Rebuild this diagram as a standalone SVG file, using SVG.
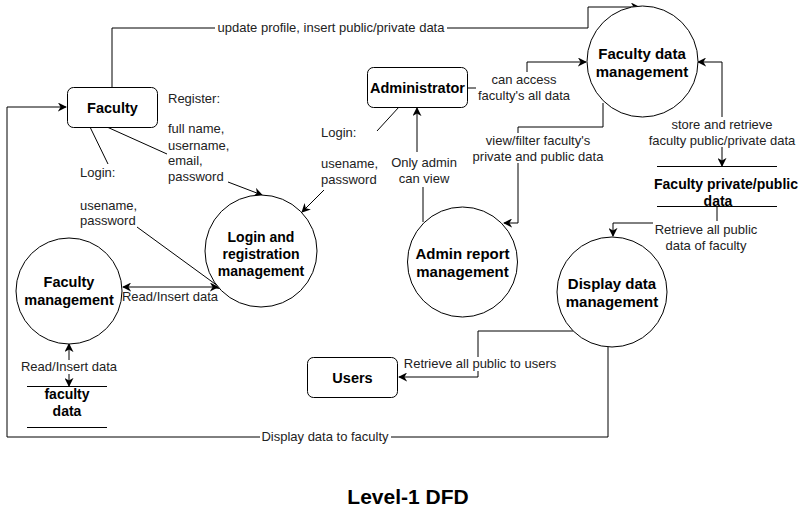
<svg xmlns="http://www.w3.org/2000/svg" width="808" height="510" viewBox="0 0 808 510">
<style>
.n{fill:#fff;stroke:#000;stroke-width:1}
.nt{font-family:"Liberation Sans",Arial,sans-serif;font-size:14.5px;font-weight:bold;fill:#000;text-anchor:middle}
.big{font-size:15px}
.sm{font-size:14px}
.e{fill:none;stroke:#000;stroke-width:1}
.l{font-family:"Liberation Sans",Arial,sans-serif;font-size:13px;fill:#222}
.c{text-anchor:middle}
.bg{fill:#fff}
</style>
<defs>
<marker id="a" viewBox="0 0 10 10" refX="9" refY="5" markerWidth="9" markerHeight="9" markerUnits="userSpaceOnUse" orient="auto-start-reverse">
<path d="M0,0 L10,5 L0,10 L3,5 z" fill="#000"/>
</marker>
</defs>
<rect width="808" height="510" fill="#fff"/>
<g id="connectors">
<path class="e" d="M112,87 V28 H588 V7 H639" marker-end="url(#a)"/>
<path class="e" d="M107,127 L167,154 M228,182 L262,195" marker-end="url(#a)"/>
<path class="e" d="M90,127 L108,164 M137,227 L222,289" marker-end="url(#a)"/>
<path class="e" d="M399,107 L377,131 M324,190 L302,212" marker-end="url(#a)"/>
<path class="e" d="M123,287 H218" marker-start="url(#a)" marker-end="url(#a)"/>
<path class="e" d="M69,344 V386" marker-start="url(#a)" marker-end="url(#a)"/>
<path class="e" d="M467,88 H527 V62 H586" marker-end="url(#a)"/>
<path class="e" d="M603,103 V127 H518 V223 H504" marker-end="url(#a)"/>
<path class="e" d="M423,222 V187 M417,152 V108" marker-end="url(#a)"/>
<path class="e" d="M698,62 H722 V166" marker-start="url(#a)" marker-end="url(#a)"/>
<path class="e" d="M717,207 V223 H613 V236" marker-end="url(#a)"/>
<path class="e" d="M573,331 H478 V377 H399" marker-end="url(#a)"/>
<path class="e" d="M608,347 V437 H7 V107 H66" marker-end="url(#a)"/>
<rect class="bg" x="215" y="21" width="232" height="14"/>
<text class="l c" x="331" y="32">update profile, insert public/private data</text>
<text class="l" x="168" y="103">Register:</text>
<text class="l" x="168" y="133">full name,</text>
<text class="l" x="168" y="150">username,</text>
<text class="l" x="168" y="165">email,</text>
<text class="l" x="168" y="181">password</text>
<text class="l" x="80" y="177">Login:</text>
<text class="l" x="80" y="210">usename,</text>
<text class="l" x="80" y="225">password</text>
<text class="l" x="321" y="137">Login:</text>
<text class="l" x="321" y="168">usename,</text>
<text class="l" x="321" y="184">password</text>
<text class="l c" x="170" y="301">Read/Insert data</text>
<rect class="bg" x="19" y="360" width="100" height="14"/>
<text class="l c" x="69" y="371">Read/Insert data</text>
<rect class="bg" x="476" y="72" width="96" height="30"/>
<text class="l c" x="524" y="84">can access</text>
<text class="l c" x="524" y="100">faculty's all data</text>
<rect class="bg" x="471" y="133" width="135" height="30"/>
<text class="l c" x="538" y="145">view/filter faculty's</text>
<text class="l c" x="538" y="161">private and public data</text>
<text class="l c" x="424" y="167">Only admin</text>
<text class="l c" x="424" y="183">can view</text>
<rect class="bg" x="646" y="117" width="152" height="30"/>
<text class="l c" x="722" y="129">store and retrieve</text>
<text class="l c" x="722" y="145">faculty public/private data</text>
<rect class="bg" x="653" y="221" width="107" height="30"/>
<text class="l c" x="706" y="234">Retrieve all public</text>
<text class="l c" x="706" y="250">data of faculty</text>
<rect class="bg" x="402" y="357" width="157" height="14"/>
<text class="l c" x="480" y="368">Retrieve all public to users</text>
<rect class="bg" x="260" y="430" width="131" height="14"/>
<text class="l c" x="325" y="441">Display data to faculty</text>
</g>
<g id="faculty">
<rect class="n" x="67.5" y="87.5" width="90" height="40" rx="6"/>
<text class="nt" x="112.5" y="112.5">Faculty</text>
</g>
<g id="administrator">
<rect class="n" x="367.5" y="67.5" width="100" height="40" rx="6"/>
<text class="nt" x="417.5" y="92.5">Administrator</text>
</g>
<g id="users">
<rect class="n" x="307.5" y="357.5" width="90" height="40" rx="6"/>
<text class="nt" x="352.5" y="382.5">Users</text>
</g>
<g id="faculty-data-management">
<circle class="n" cx="642.5" cy="61.5" r="55.5"/>
<text class="nt big" x="642" y="59">Faculty data</text>
<text class="nt big" x="642" y="77">management</text>
</g>
<g id="admin-report-management">
<circle class="n" cx="462.5" cy="262" r="55"/>
<text class="nt big" x="462.5" y="259">Admin report</text>
<text class="nt big" x="462.5" y="277">management</text>
</g>
<g id="login-registration-management">
<circle class="n" cx="261" cy="251" r="56"/>
<text class="nt sm" x="261" y="242">Login and</text>
<text class="nt sm" x="261" y="259">registration</text>
<text class="nt sm" x="261" y="276">management</text>
</g>
<g id="faculty-management">
<circle class="n" cx="69" cy="291" r="53"/>
<text class="nt" x="69" y="287">Faculty</text>
<text class="nt" x="69" y="305">management</text>
</g>
<g id="display-data-management">
<circle class="n" cx="612" cy="292" r="55"/>
<text class="nt big" x="612" y="289">Display data</text>
<text class="nt big" x="612" y="307">management</text>
</g>
<g id="faculty-data-store">
<path class="e" d="M27,386.5 H107 M27,427.5 H107"/>
<text class="nt sm" x="67" y="399">faculty</text>
<text class="nt sm" x="67" y="416">data</text>
</g>
<g id="faculty-private-public-data-store">
<path class="e" d="M657,166.5 H777 M657,206.5 H777"/>
<text class="nt sm" x="726" y="189">Faculty private/public</text>
<text class="nt sm" x="718" y="206">data</text>
</g>
<text x="408" y="504" font-family="Liberation Sans, Arial, sans-serif" font-size="21" font-weight="bold" text-anchor="middle">Level-1 DFD</text>
</svg>
